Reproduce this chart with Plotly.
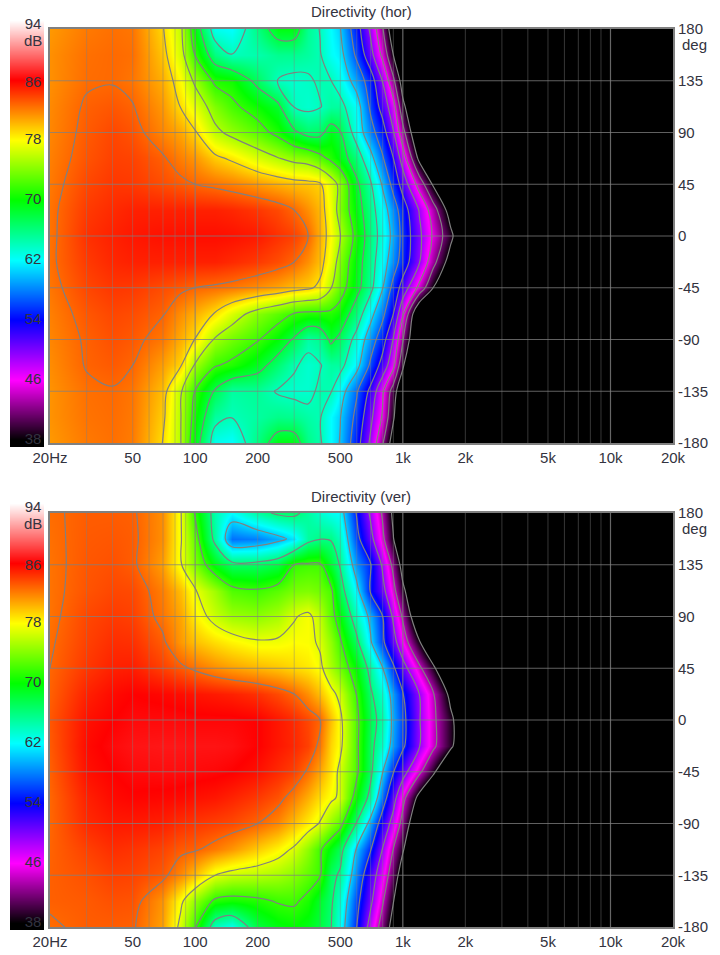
import plotly.graph_objects as go

FREQ = [20,30,40,50,70,85,100,125,150,200,250,300,350,400,450,500,600,700,800,900,1000,1200,1400,1700,2000,20000]
ANGLES = [180,157.5,135,112.5,90,67.5,45,22.5,0,-22.5,-45,-67.5,-90,-112.5,-135,-157.5,-180]

HOR = [
[81.2,82.2,82.5,82.3,79.2,76,69.7,62.5,62,66,69.5,69.5,65.5,64,62,60.5,54.5,48.5,42,35,30,28,25,22,20,10],
[81.5,82.5,82.7,82.5,79.8,76.5,71.5,66,64.2,64.6,65.5,65.5,65,64.3,62.3,61.5,56,50.5,44.5,38,33,29,26,23,21,10],
[81.5,82.6,82.7,82.3,80.5,78,74.8,71,70.5,67,64,63.5,63.8,64.5,64.2,62.8,59,54.8,49,42.5,36,30,27,24,21,10],
[81.7,83,83.3,82.9,81.2,79,77.2,74,72.2,70.3,68.6,64,63.5,64,65,65,62,56,51.5,47,39,32,28,24,21,10],
[81.8,83.2,83.8,83.4,81.8,80.8,79.3,76,74.6,72.8,70.8,68.4,66.8,67,69.3,68,62.5,58,54.5,49.5,43,33,28,24,20,10],
[82,83.4,84,83.9,83,82,81.3,79.6,78.7,76.8,75.5,74.5,74,72.5,71,69.5,66,61.5,57,53,47.5,37,31,26,22,10],
[82.2,83.8,84.3,84.2,83.6,83.2,82.8,82.4,82,81.2,80.5,80,79.8,79.4,77,74.5,68.5,64.5,60,55.5,51.5,44,37.5,30,25,10],
[82.4,84.2,84.7,85,85,85,85,85,84.8,84.3,83.7,82.8,81.5,80.2,77.5,74,69.5,65.5,62,58.5,54.8,49,43.5,36,30,10],
[82.4,84.5,85,85.3,85.5,85.5,85.6,85.6,85.5,85.2,84.5,84,82.8,80.5,78,75.5,70.5,66,62.7,59.5,55.5,50,45,39,33,10],
[82.5,84.2,84.8,85,85,85,85,85,84.7,84.2,83.6,82.8,81.5,80,77.3,74,69.5,65.5,62,58.5,55,49.5,43,36,30,10],
[82.3,83.8,84.3,84.2,83.6,83.2,82.8,82.5,82.2,81.5,80.8,80,79.5,78.5,75.5,73,69,65,60.5,55.5,51.5,44.5,38,30,25,10],
[82,83.3,83.8,83.6,82.9,81.5,80.5,78.9,76.8,74.2,72.8,71.5,71,71,71,70.2,66,61.5,57.5,53,46,33,29,26,22,10],
[81.8,83,83.5,83.2,82.2,80.5,79,75,73.5,71.8,69.8,67.5,64.8,65.5,68.5,67,63,58.5,54.5,49,42,32,28,24,20,10],
[81.6,82.9,83.2,82.8,81,79.3,75,71.8,71,69,66.5,64.4,63.5,64,65,65,61.5,56,51.5,46.5,38.5,32,28,24,21,10],
[81.4,82.5,82.7,82.3,80,75.7,71.5,67.5,65,65.3,63.9,63.5,63.5,64.6,64.3,62,57,52,46,40,34,30,27,24,21,10],
[81.4,82.4,82.6,82.2,79.5,75.5,70.5,65,64.2,65,65.7,65.5,64.8,64.3,62,60.5,55.7,50,45,38.5,33,29,26,23,21,10],
[81.2,82.2,82.5,82.1,79,75.5,69.5,62.5,62,66,69.5,69.5,65.8,64.5,62,60.2,54.5,48.5,42,36,31,28,25,22,20,10],
]

VER = [
[82.6,83.1,83.1,83,81.5,77.5,71.3,64.5,62,65,66.5,66.7,65,63.5,62.5,62,54.5,48.5,43,37,33,29,26,23,21,10],
[82.5,83.2,83.3,83.1,81.5,77.5,73,65,57.5,58,59.5,61.2,65,65.9,65.8,64,56,50.5,44.5,38.2,33,29,26,23,21,10],
[82.4,83.3,83.5,83.1,81,77.5,74,69.5,67,67,68,71.6,72,72,68.5,65.7,58.5,55,48.5,42.5,36,30,27,24,21,10],
[82.4,83.4,83.8,83.7,82,80,77.4,75,72.5,71.9,72.8,73.8,74,73.5,72.3,67.5,61.5,54.3,50.5,45,39,32,28,24,21,10],
[82.4,83.8,84.2,84,82.3,80.8,78.5,76.3,75,74.5,75.3,77,77.8,76,72.8,70,64,59.5,54.8,48.5,43,33,28,24,20,10],
[82.6,84,84.6,84.5,83.1,81.2,80,79,78.3,77.5,77.6,78,77.9,76.8,74.5,72,66.8,60.8,55.5,51,46,38.5,32,26,22,10],
[82.8,84.3,85,85.1,84,83.2,82.5,81.6,81,80.3,79.8,79.2,78.7,77.8,75.3,73.5,69.8,64.8,60.5,55.5,51,44.5,39,31,25,10],
[83,85,85.7,86,85.8,85.6,85.4,85.2,85,84.5,83.7,82.8,81.5,80,78,76.5,71.5,66.5,63.3,59,55,49.2,44,36.7,30,10],
[83.3,85.5,86,86.3,86.3,86.3,86.2,86.2,86.2,86,85.3,84.7,83.8,82.8,80,77.8,72.3,67.5,64.5,59.5,56,49.5,44.5,39,34,10],
[83.2,85.7,86.3,86.6,86.7,86.7,86.6,86.6,86.5,86,85.3,84.8,84,82.3,79.3,77.8,72.2,67,63.5,59,55.5,49.5,44.5,39,33,10],
[83,85.5,86,86.3,86.4,86.4,86.3,86.2,86,85.5,84.7,84,82.5,80.8,78.8,76.5,72.2,66.8,60.5,55,51,44.5,39,31,25,10],
[82.8,85,85.7,85.9,85.8,85.7,85.5,85.3,84.9,84.2,83.4,82,80.5,79,77.8,76.7,70,64.8,57,51,45,36.5,31,26,22,10],
[82.8,84.7,85.2,85.2,85,84.5,84.3,84,83.7,82.8,81.7,80,78.5,77,74.5,72.7,65.7,59,52.5,47.5,42,32,28,24,20,10],
[82.9,84,84.6,84.4,83.9,83.2,83,82.2,81.3,79.6,78.3,76.8,74.5,72,69.5,67.3,60,55,49,43.5,38.5,30,27,24,21,10],
[83,83.5,84,83.9,83.2,81.7,80,77.2,76.3,75.8,75.2,74.3,73,71.8,67,65.5,58,51.5,46.5,41,35,30,27,24,21,10],
[83,83.2,83.5,83.4,81.3,77.8,74.5,71,70.5,71,71.8,72,70.8,68.7,66.6,63.5,56,50,44,38.2,32,29,26,23,21,10],
[82.6,83.1,83.1,83,80.9,76.5,71.9,64,62.5,68,69.5,70,69.3,68,66.2,62.5,54.8,47.5,41.5,36,31,28,25,22,20,10],
]

COLOR_POS_DB = [38,46,54,62,70,78,86,94]
COLOR_VALUES = ["#000000","#ff00ff","#0000ff","#00ffff","#00ff00","#ffff00","#ff0000","#ffffff"]
BAR_LEVELS = [36,38,46,50,54,58,62,66,70,74,78,82,86,90,94,96]
BAR_LABELS = ["38","46","54","62","70","78","86","94","dB"]
BAR_LABEL_Y = [38,46,54,62,70,78,85.5,93.3,91]

TICK_X = [20,50,100,200,500,1000,2000,5000,10000,20000]
TICK_X_TEXT = ["20Hz","50","100","200","500","1k","2k","5k","10k","20k"]
MINOR_X = [30,40,50,60,70,80,90,200,300,400,500,600,700,800,900,2000,3000,4000,5000,6000,7000,8000,9000]
DECADE_X = [100,1000,10000]
TICK_Y = [180,135,90,45,0,-45,-90,-135,-180]

H, W = 955, 720
FONT = "Liberation Sans"
TXT = "#333340"
CS = [[(p-38)/56, c] for p, c in zip(COLOR_POS_DB, COLOR_VALUES)]


def vfrac(top, bottom):
    return [1-bottom/H, 1-top/H]


fig = go.Figure()


def grid_xy(vals, other, vertical):
    a, b = [], []
    for v in vals:
        a += [v, v, None]
        b += [other[0], other[1], None]
    return (a, b) if vertical else (b, a)


def panel(idx, z, step, top, bottom, title, bar_top, bar_bottom):
    xn = "x" if idx == 0 else "x2"
    yn = "y" if idx == 0 else "y2"
    bx = "x3" if idx == 0 else "x4"
    by = "y3" if idx == 0 else "y4"
    fig.add_trace(go.Contour(
        x=FREQ, y=ANGLES, z=z, xaxis=xn, yaxis=yn, colorscale=CS, zmin=38, zmax=94,
        zauto=False, autocontour=False, showscale=False, hoverinfo="skip",
        contours=dict(start=38, end=82.81, size=step, coloring="heatmap", showlines=True),
        line=dict(color="rgb(128,128,128)", width=1.2, smoothing=1.0),
    ))
    xr = [20, 20000]
    yr = [-180, 180]
    for vals, col, w in ((MINOR_X, "rgba(128,128,128,0.42)", 1), (DECADE_X, "rgba(128,128,128,0.8)", 1.2)):
        gx, gy = grid_xy(vals, yr, True)
        fig.add_trace(go.Scatter(x=gx, y=gy, xaxis=xn, yaxis=yn, mode="lines",
                                 line=dict(color=col, width=w), hoverinfo="skip", showlegend=False))
    gx, gy = grid_xy(TICK_Y[1:-1], xr, False)
    fig.add_trace(go.Scatter(x=gx, y=gy, xaxis=xn, yaxis=yn, mode="lines",
                             line=dict(color="rgba(128,128,128,0.75)", width=1.2), hoverinfo="skip", showlegend=False))
    fig.add_trace(go.Heatmap(x=[0, 1], y=BAR_LEVELS, z=[[v, v] for v in BAR_LEVELS], xaxis=bx, yaxis=by,
                             colorscale=CS, zmin=38, zmax=94, zsmooth="best", showscale=False, hoverinfo="skip"))
    fig.add_trace(go.Scatter(x=[0.68]*len(BAR_LABELS), y=BAR_LABEL_Y, text=BAR_LABELS, mode="text",
                             xaxis=bx, yaxis=by, cliponaxis=False, textposition="middle center",
                             textfont=dict(family=FONT, size=15, color=TXT), hoverinfo="skip", showlegend=False))
    common_x = dict(type="log", range=[1.30103, 4.30103], domain=[50/W, 673/W], anchor=yn, automargin=False,
                    tickmode="array", tickvals=TICK_X, ticktext=TICK_X_TEXT, showgrid=False, zeroline=False,
                    showline=True, mirror=True, linecolor="#808080", linewidth=2, ticks="", ticklen=0,
                    tickfont=dict(family=FONT, size=15, color=TXT))
    common_y = dict(range=[-180, 180], domain=vfrac(top, bottom), anchor=xn, side="right", automargin=False,
                    tickmode="array", tickvals=TICK_Y, ticktext=[str(t) for t in TICK_Y], showgrid=False,
                    zeroline=False, showline=True, mirror=True, linecolor="#808080", linewidth=2, ticks="",
                    tickfont=dict(family=FONT, size=15, color=TXT))
    sx = "xaxis" if idx == 0 else "xaxis2"
    sy = "yaxis" if idx == 0 else "yaxis2"
    fig.update_layout({sx: common_x, sy: common_y})
    bxk = "xaxis3" if idx == 0 else "xaxis4"
    byk = "yaxis3" if idx == 0 else "yaxis4"
    fig.update_layout({
        bxk: dict(domain=[10/W, 44/W], range=[0, 1], visible=False, anchor=by, fixedrange=True, automargin=False),
        byk: dict(domain=vfrac(bar_top-14, bar_bottom), range=[37.07, 94.5], visible=False, anchor=bx,
                  fixedrange=True, automargin=False),
    })
    fig.add_annotation(text=title, xref="paper", yref="paper", x=361/W, y=1-(top-17)/H, showarrow=False,
                       font=dict(family=FONT, size=15, color=TXT), xanchor="center", yanchor="middle")
    fig.add_annotation(text="deg", xref="paper", yref="paper", x=680/W, y=1-(top+15)/H, showarrow=False,
                       font=dict(family=FONT, size=15, color=TXT), xanchor="left", yanchor="middle")


panel(0, HOR, 3.7333, 29, 443, "Directivity (hor)", 30, 447)
panel(1, VER, 5.6, 513, 927, "Directivity (ver)", 513, 930)

fig.update_layout(width=W, height=H, margin=dict(l=0, r=0, t=0, b=0), paper_bgcolor="white",
                  plot_bgcolor="black", showlegend=False)
fig.write_html("out.html", config={"displayModeBar": False},
               post_script="document.body.style.margin='0';document.body.style.overflow='hidden';")
